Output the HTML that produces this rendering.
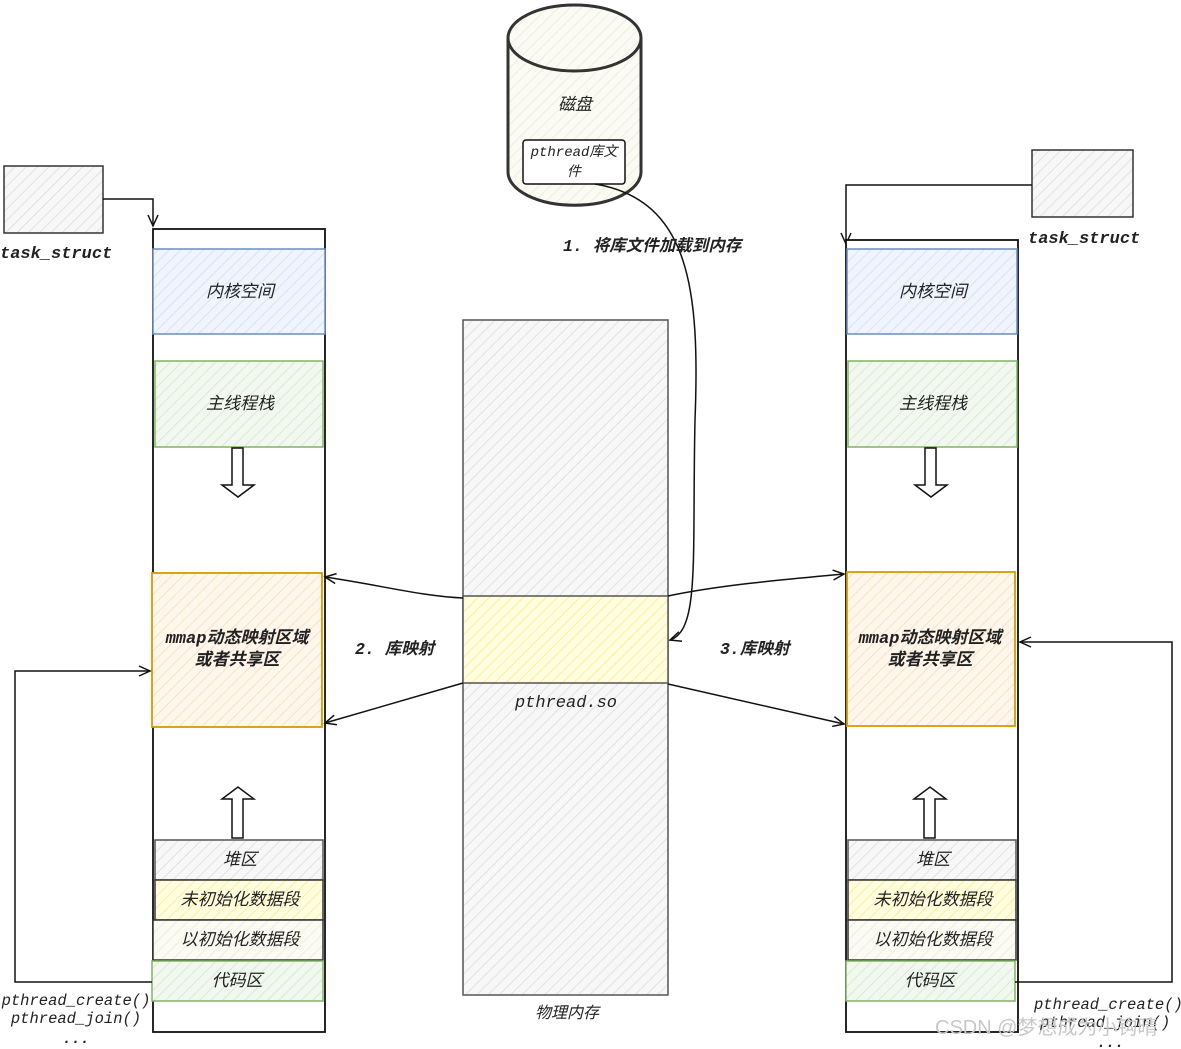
<!DOCTYPE html>
<html><head><meta charset="utf-8"><style>
html,body{margin:0;padding:0;background:#fff}
svg{display:block}
text{font-family:"Liberation Sans","Noto Sans CJK SC",sans-serif;font-style:italic;fill:#222}
.m{font-family:"Liberation Mono","Noto Sans CJK SC",monospace}
.b{font-weight:bold}
</style></head><body>
<svg width="1181" height="1049" viewBox="0 0 1181 1049" xmlns="http://www.w3.org/2000/svg">
<defs>
<pattern id="hg" width="8" height="8" patternUnits="userSpaceOnUse" patternTransform="rotate(45)"><rect width="8" height="8" fill="#f7f7f7"/><line x1="0" y1="0" x2="0" y2="8" stroke="#e2e2e2" stroke-width="2"/></pattern>
<pattern id="hb" width="8" height="8" patternUnits="userSpaceOnUse" patternTransform="rotate(45)"><rect width="8" height="8" fill="#f0f5fd"/><line x1="0" y1="0" x2="0" y2="8" stroke="#d6e3f8" stroke-width="2"/></pattern>
<pattern id="hgr" width="8" height="8" patternUnits="userSpaceOnUse" patternTransform="rotate(45)"><rect width="8" height="8" fill="#f2f8ef"/><line x1="0" y1="0" x2="0" y2="8" stroke="#d9ebd2" stroke-width="2"/></pattern>
<pattern id="ho" width="8" height="8" patternUnits="userSpaceOnUse" patternTransform="rotate(45)"><rect width="8" height="8" fill="#fff6ec"/><line x1="0" y1="0" x2="0" y2="8" stroke="#fbe1c6" stroke-width="2"/></pattern>
<pattern id="hy" width="8" height="8" patternUnits="userSpaceOnUse" patternTransform="rotate(45)"><rect width="8" height="8" fill="#fffce0"/><line x1="0" y1="0" x2="0" y2="8" stroke="#f7f29a" stroke-width="2"/></pattern>
<pattern id="hc" width="8" height="8" patternUnits="userSpaceOnUse" patternTransform="rotate(45)"><rect width="8" height="8" fill="#fbfbf4"/><line x1="0" y1="0" x2="0" y2="8" stroke="#eeeedd" stroke-width="2"/></pattern>
<marker id="ar" markerWidth="14" markerHeight="12" refX="12" refY="6" orient="auto" markerUnits="userSpaceOnUse"><path d="M1,1 L12,6 L1,11" fill="none" stroke="#111" stroke-width="1.5"/></marker>
</defs>

<!-- task_struct left -->
<rect x="4" y="166" width="99" height="67" fill="url(#hg)" stroke="#333" stroke-width="1.5"/>
<text x="0" y="258" class="m b" font-size="17">task_struct</text>
<path d="M103,199 L153,199 L153,226" fill="none" stroke="#111" stroke-width="1.5" marker-end="url(#ar)"/>

<!-- left column -->
<rect x="153" y="229" width="172" height="803" fill="#fff" stroke="#111" stroke-width="1.8"/>
<rect x="153" y="249" width="172" height="85" fill="url(#hb)" stroke="#6c8ebf" stroke-width="1.5"/>
<text x="240" y="297" font-size="17" text-anchor="middle">内核空间</text>
<rect x="155" y="361" width="168" height="86" fill="url(#hgr)" stroke="#82b366" stroke-width="1.5"/>
<text x="240" y="409" font-size="17" text-anchor="middle">主线程栈</text>
<path d="M232,448 L243,448 L243,485 L254,485 L238,497 L222,485 L232,485 Z" fill="#fff" stroke="#111" stroke-width="1.5"/>
<rect x="152" y="573" width="170" height="154" fill="url(#ho)" stroke="#d79b00" stroke-width="1.8"/>
<text x="237" y="643" font-size="17" text-anchor="middle" class="b"><tspan class="m">mmap</tspan>动态映射区域</text>
<text x="237" y="665" font-size="17" text-anchor="middle" class="b">或者共享区</text>
<path d="M232,838 L243,838 L243,799 L254,799 L238,787 L222,799 L232,799 Z" fill="#fff" stroke="#111" stroke-width="1.5"/>
<rect x="155" y="840" width="168" height="40" fill="url(#hg)" stroke="#555" stroke-width="1.5"/>
<text x="240" y="865" font-size="17" text-anchor="middle">堆区</text>
<rect x="155" y="880" width="168" height="40" fill="url(#hy)" stroke="#333" stroke-width="1.5"/>
<text x="240" y="905" font-size="17" text-anchor="middle">未初始化数据段</text>
<rect x="153" y="920" width="170" height="40" fill="url(#hc)" stroke="#333" stroke-width="1.5"/>
<text x="240" y="945" font-size="17" text-anchor="middle">以初始化数据段</text>
<rect x="152" y="961" width="171" height="40" fill="url(#hgr)" stroke="#82b366" stroke-width="1.5"/>
<text x="237" y="986" font-size="17" text-anchor="middle">代码区</text>
<path d="M152,982 L15,982 L15,671 L150,671" fill="none" stroke="#111" stroke-width="1.5" marker-end="url(#ar)"/>
<text x="76" y="1005" class="m" font-size="15.5" text-anchor="middle">pthread_create()</text>
<text x="76" y="1023" class="m" font-size="15.5" text-anchor="middle">pthread_join()</text>
<text x="76" y="1043" class="m b" font-size="15" text-anchor="middle">...</text>

<!-- disk -->
<path d="M508,38 L508,172 A66,33 0 0 0 641,172 L641,38" fill="url(#hc)" stroke="#333" stroke-width="3"/>
<ellipse cx="574.5" cy="38" rx="66.5" ry="33" fill="url(#hc)" stroke="#333" stroke-width="3"/>
<text x="575" y="110" font-size="17" text-anchor="middle">磁盘</text>
<rect x="523" y="140" width="102" height="44" rx="3" fill="#fff" stroke="#111" stroke-width="1.5"/>
<text x="574" y="156" font-size="14" text-anchor="middle"><tspan class="m">pthread</tspan>库文</text>
<text x="574" y="176" font-size="14" text-anchor="middle">件</text>
<path d="M595,184 C690,200 700,290 695,420 C692,560 700,630 670,640" fill="none" stroke="#111" stroke-width="1.5" marker-end="url(#ar)"/>
<text x="563" y="251" font-size="16.5" class="b"><tspan class="m">1. </tspan>将库文件加载到内存</text>

<!-- physical memory -->
<rect x="463" y="320" width="205" height="675" fill="url(#hg)" stroke="#555" stroke-width="1.5"/>
<rect x="463" y="596" width="205" height="87" fill="url(#hy)" stroke="#555" stroke-width="1.5"/>
<text x="566" y="707" class="m" font-size="17" text-anchor="middle">pthread.so</text>
<text x="567" y="1018" font-size="16" text-anchor="middle">物理内存</text>

<path d="M463,598 C420,596 380,585 325,577" fill="none" stroke="#111" stroke-width="1.5" marker-end="url(#ar)"/>
<path d="M463,683 L325,723" fill="none" stroke="#111" stroke-width="1.5" marker-end="url(#ar)"/>
<text x="355" y="654" font-size="16.5" class="b"><tspan class="m">2. </tspan>库映射</text>
<path d="M668,596 C720,585 780,580 844,574" fill="none" stroke="#111" stroke-width="1.5" marker-end="url(#ar)"/>
<path d="M668,684 L844,724" fill="none" stroke="#111" stroke-width="1.5" marker-end="url(#ar)"/>
<text x="720" y="654" font-size="16.5" class="b"><tspan class="m">3.</tspan>库映射</text>

<!-- task_struct right -->
<rect x="1032" y="150" width="101" height="67" fill="url(#hg)" stroke="#333" stroke-width="1.5"/>
<text x="1028" y="243" class="m b" font-size="17">task_struct</text>
<path d="M1032,185 L846,185 L846,244" fill="none" stroke="#111" stroke-width="1.5" marker-end="url(#ar)"/>

<!-- right column -->
<rect x="846" y="240" width="172" height="792" fill="#fff" stroke="#111" stroke-width="1.8"/>
<rect x="847" y="249" width="170" height="85" fill="url(#hb)" stroke="#6c8ebf" stroke-width="1.5"/>
<text x="933" y="297" font-size="17" text-anchor="middle">内核空间</text>
<rect x="848" y="361" width="169" height="86" fill="url(#hgr)" stroke="#82b366" stroke-width="1.5"/>
<text x="933" y="409" font-size="17" text-anchor="middle">主线程栈</text>
<path d="M925,448 L936,448 L936,485 L947,485 L931,497 L915,485 L925,485 Z" fill="#fff" stroke="#111" stroke-width="1.5"/>
<rect x="847" y="572" width="168" height="154" fill="url(#ho)" stroke="#d79b00" stroke-width="1.8"/>
<text x="930" y="643" font-size="17" text-anchor="middle" class="b"><tspan class="m">mmap</tspan>动态映射区域</text>
<text x="930" y="665" font-size="17" text-anchor="middle" class="b">或者共享区</text>
<path d="M924,838 L935,838 L935,799 L946,799 L930,787 L914,799 L924,799 Z" fill="#fff" stroke="#111" stroke-width="1.5"/>
<rect x="848" y="840" width="168" height="40" fill="url(#hg)" stroke="#555" stroke-width="1.5"/>
<text x="933" y="865" font-size="17" text-anchor="middle">堆区</text>
<rect x="848" y="880" width="168" height="40" fill="url(#hy)" stroke="#333" stroke-width="1.5"/>
<text x="933" y="905" font-size="17" text-anchor="middle">未初始化数据段</text>
<rect x="848" y="920" width="168" height="40" fill="url(#hc)" stroke="#333" stroke-width="1.5"/>
<text x="933" y="945" font-size="17" text-anchor="middle">以初始化数据段</text>
<rect x="846" y="961" width="169" height="40" fill="url(#hgr)" stroke="#82b366" stroke-width="1.5"/>
<text x="930" y="986" font-size="17" text-anchor="middle">代码区</text>
<path d="M1015,982 L1172,982 L1172,642 L1020,642" fill="none" stroke="#111" stroke-width="1.5" marker-end="url(#ar)"/>
<text x="1034" y="1009" class="m" font-size="15.5">pthread_create()</text>
<text x="1040" y="1027" class="m" font-size="15.5">pthread_join()</text>
<text x="1097" y="1047" class="m b" font-size="15">...</text>
<text x="935" y="1034" font-size="20" style="font-style:normal;fill:#c8c8c8">CSDN @梦想成为小钩晴</text>
</svg>
</body></html>
